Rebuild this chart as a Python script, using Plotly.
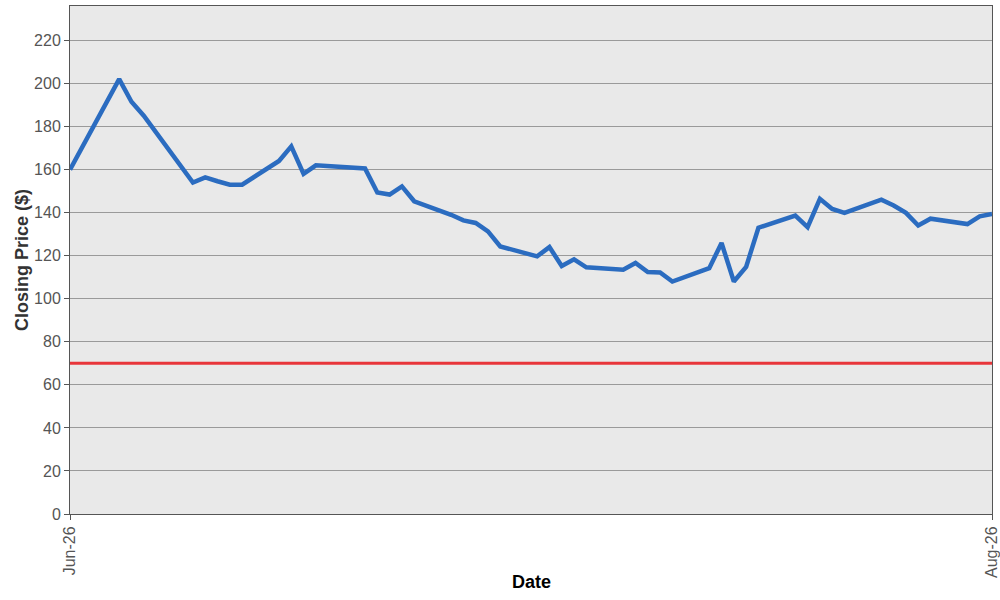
import plotly.graph_objects as go

dates = [
    "2026-06-12", "2026-06-15", "2026-06-16", "2026-06-17", "2026-06-18",
    "2026-06-22", "2026-06-23", "2026-06-24", "2026-06-25", "2026-06-26",
    "2026-06-29", "2026-06-30", "2026-07-01", "2026-07-02", "2026-07-06",
    "2026-07-07", "2026-07-08", "2026-07-09", "2026-07-10", "2026-07-13",
    "2026-07-14", "2026-07-15", "2026-07-16", "2026-07-17", "2026-07-20",
    "2026-07-21", "2026-07-22", "2026-07-23", "2026-07-24", "2026-07-27",
    "2026-07-28", "2026-07-29", "2026-07-30", "2026-07-31", "2026-08-03",
    "2026-08-04", "2026-08-05", "2026-08-06", "2026-08-07", "2026-08-10",
    "2026-08-11", "2026-08-12", "2026-08-13", "2026-08-14", "2026-08-17",
    "2026-08-18", "2026-08-19", "2026-08-20", "2026-08-21", "2026-08-24",
    "2026-08-25", "2026-08-26",
]
closing = [
    160.0, 192.0, 202.0, 191.5, 185.0,
    154.0, 156.4, 154.6, 153.0, 153.0,
    164.0, 170.8, 158.0, 162.0, 160.5,
    149.4, 148.4, 152.2, 145.3, 139.0,
    136.4, 135.2, 131.3, 124.3, 119.7,
    124.0, 115.2, 118.3, 114.6, 113.5,
    116.6, 112.4, 112.2, 108.0, 114.2,
    125.9, 108.0, 114.8, 133.0, 138.6,
    133.3, 146.4, 141.7, 139.9, 146.0,
    143.3, 139.9, 134.0, 137.2, 134.7,
    138.3, 139.4,
]
threshold = 70
y_ticks = [0, 20, 40, 60, 80, 100, 120, 140, 160, 180, 200, 220]
x_tick_labels = ["Jun-26", "Aug-26"]
x_title = "Date"
y_title = "Closing Price ($)"

fig = go.Figure()
fig.add_trace(go.Scatter(
    x=dates, y=closing, mode="lines",
    line=dict(color="#2b6cc0", width=4.5),
    showlegend=False, hoverinfo="x+y",
))
fig.add_shape(
    type="line", xref="paper", x0=0, x1=1, yref="y", y0=threshold, y1=threshold,
    line=dict(color="#e8353a", width=3), layer="above",
)

font_family = "Liberation Sans, Arial, sans-serif"
fig.update_layout(
    width=1000, height=600,
    margin=dict(l=70, r=8, t=6, b=86, autoexpand=False),
    paper_bgcolor="white",
    plot_bgcolor="#e9e9e9",
    font=dict(family=font_family, size=16, color="#555555"),
    xaxis=dict(
        range=[dates[0], dates[-1]],
        tickvals=[dates[0], dates[-1]],
        ticktext=x_tick_labels,
        tickangle=-90,
        ticks="outside", ticklen=5, tickcolor="#555555",
        ticklabeloverflow="allow",
        automargin=False,
        showgrid=False,
        showline=True, linecolor="#555555", linewidth=1, mirror=True,
        zeroline=False,
    ),
    yaxis=dict(
        range=[0, 236],
        tickvals=y_ticks,
        ticks="outside", ticklen=5, tickcolor="#555555",
        automargin=False,
        showgrid=True, gridcolor="#9a9a9a", gridwidth=1,
        showline=True, linecolor="#555555", linewidth=1, mirror=True,
        zeroline=False,
    ),
    annotations=[
        dict(text="<b>%s</b>" % x_title, xref="paper", yref="paper",
             x=0.5, y=-0.134, xanchor="center", yanchor="middle",
             showarrow=False, font=dict(size=18, color="#000000")),
        dict(text="<b>%s</b>" % y_title, xref="paper", yref="paper",
             x=-0.052, y=0.5, xanchor="center", yanchor="middle", textangle=-90,
             showarrow=False, font=dict(size=18, color="#333333")),
    ],
)

fig.write_html("out.html", config={"displayModeBar": False},
               post_script="document.body.style.margin='0';")
